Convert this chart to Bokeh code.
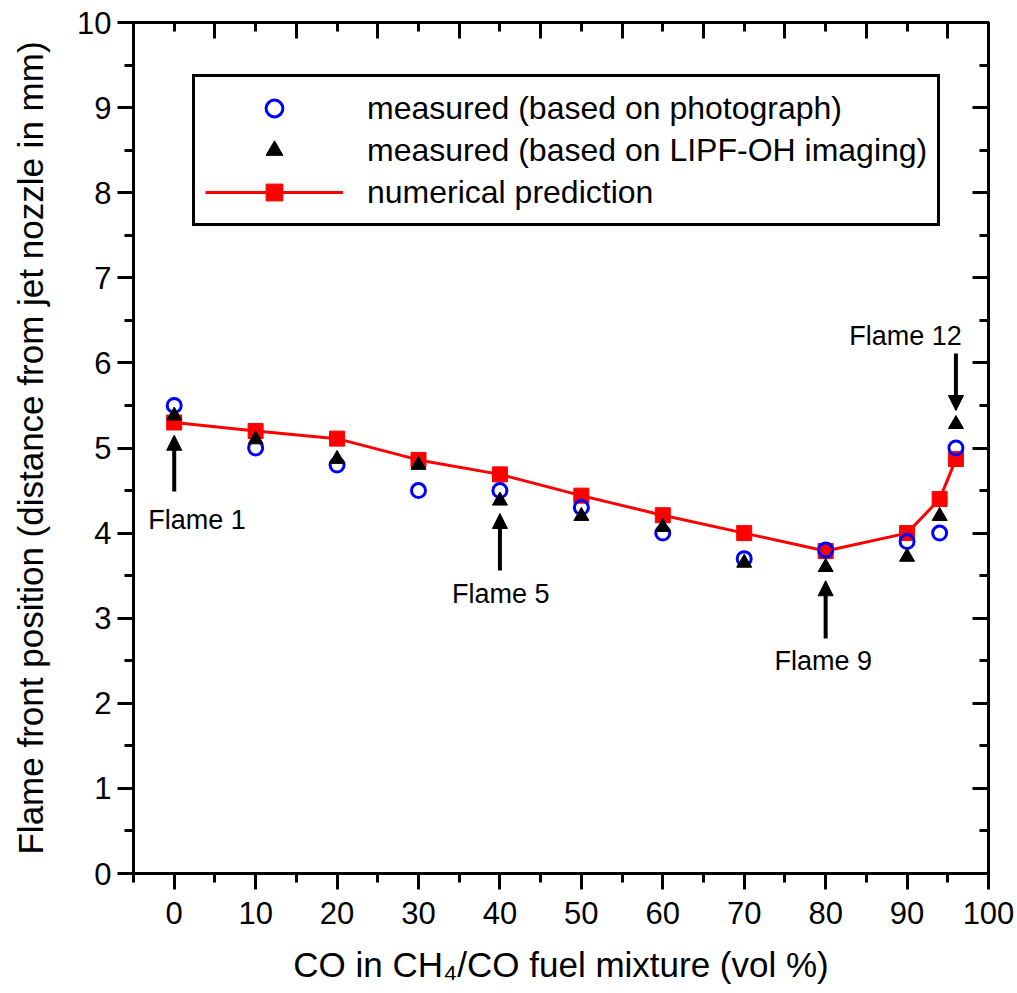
from bokeh.plotting import figure
from bokeh.models import (Range1d, LinearAxis, FixedTicker, SingleIntervalTicker, Legend,
                          LegendItem, Arrow, NormalHead, ColumnDataSource, CustomJSTickFormatter)
from bokeh.core.properties import value
from bokeh.embed import file_html
from bokeh.resources import INLINE

# ---- data ----
co_pct = [0, 10, 20, 30, 40, 50, 60, 70, 80, 90, 94, 96]
photo = [5.5, 5.0, 4.8, 4.5, 4.5, 4.3, 4.0, 3.7, 3.8, 3.9, 4.0, 5.0]
lipf = [5.38, 5.1, 4.87, 4.8, 4.38, 4.2, 4.07, 3.65, 3.6, 3.72, 4.2, 5.28]
numeric = [5.3, 5.2, 5.11, 4.86, 4.69, 4.44, 4.21, 4.0, 3.79, 4.0, 4.4, 4.87]

flame_labels = ["Flame 1", "Flame 5", "Flame 9", "Flame 12"]
flame_label_x = [2.8, 40.1, 79.7, 89.8]
flame_label_y = [4.15, 3.29, 2.50, 6.32]
arrow_x = [0, 40, 80, 96]
arrow_tail = [4.49, 3.56, 2.76, 6.11]
arrow_tip = [5.15, 4.23, 3.44, 5.44]

x_major = [0, 10, 20, 30, 40, 50, 60, 70, 80, 90, 100]
x_minor = [-5, 5, 15, 25, 35, 45, 55, 65, 75, 85, 95]

FONT = "Liberation Sans"

p = figure(width=1017, height=993, output_backend="svg", toolbar_location=None,
           x_range=Range1d(-5, 100), y_range=Range1d(0, 10),
           min_border_left=133, min_border_right=29, min_border_top=22, min_border_bottom=120,
           x_axis_label="CO in CH\u2084/CO fuel mixture (vol %)",
           y_axis_label="Flame front position (distance from jet nozzle in mm)")
p.grid.visible = False
p.outline_line_color = "black"
p.outline_line_width = 3
p.background_fill_color = "white"
p.border_fill_color = "white"

# bottom axis
xa = p.xaxis[0]
xa.ticker = FixedTicker(ticks=x_major, minor_ticks=x_minor)
# left axis
ya = p.yaxis[0]
ya.ticker = SingleIntervalTicker(interval=1, num_minor_ticks=2)

for ax in (xa, ya):
    ax.axis_line_width = 3
    ax.major_tick_line_width = 3
    ax.minor_tick_line_width = 3
    ax.major_tick_in = 0
    ax.minor_tick_in = 0
    ax.major_tick_out = 16
    ax.minor_tick_out = 9
    ax.major_label_text_font = FONT
    ax.major_label_text_font_size = "31px"
    ax.major_label_text_color = "black"
    ax.axis_label_text_font = FONT
    ax.axis_label_text_font_size = "35px"
    ax.axis_label_text_font_style = "normal"
    ax.axis_label_text_color = "black"
xa.major_label_standoff = 12
xa.axis_label_standoff = 18
ya.major_label_standoff = 6
ya.axis_label_standoff = 24

blank = CustomJSTickFormatter(code="return ''")
top = LinearAxis(ticker=FixedTicker(ticks=x_minor[1:], minor_ticks=x_major), formatter=blank)
right = LinearAxis(ticker=SingleIntervalTicker(interval=1, num_minor_ticks=2), formatter=blank)
for ax in (top, right):
    ax.axis_line_width = 3
    ax.major_tick_line_width = 3
    ax.minor_tick_line_width = 3
    ax.major_tick_out = 0
    ax.minor_tick_out = 0
    ax.major_tick_in = 16
    ax.minor_tick_in = 9
    ax.major_label_text_font_size = "1px"
p.add_layout(top, "above")
p.add_layout(right, "right")

src = ColumnDataSource(dict(x=co_pct, photo=photo, lipf=lipf, num=numeric))
line_r = p.line("x", "num", source=src, line_color="#ff0000", line_width=3)
sq_r = p.scatter("x", "num", source=src, marker="square", size=15,
                 fill_color="#ff0000", line_color="#ff0000")
circ_r = p.scatter("x", "photo", source=src, marker="circle", size=14,
                   fill_color=None, line_color="#0000ff", line_width=3)
tri_r = p.scatter("x", "lipf", source=src, marker="triangle", size=15,
                  fill_color="black", line_color="black")

# arrows
for ax_, t0, t1 in zip(arrow_x, arrow_tail, arrow_tip):
    p.add_layout(Arrow(x_start=ax_, y_start=t0, x_end=ax_, y_end=t1,
                       line_width=4, line_color="black",
                       end=NormalHead(size=15, fill_color="black", line_color="black", line_width=1)))

lab_src = ColumnDataSource(dict(x=flame_label_x, y=flame_label_y, t=flame_labels))
p.text("x", "y", text="t", source=lab_src, text_font=value(FONT), text_font_size="27px",
       text_align="center", text_baseline="middle", text_color="black")

legend = Legend(items=[
    LegendItem(label="measured (based on photograph)", renderers=[circ_r]),
    LegendItem(label="measured (based on LIPF-OH imaging)", renderers=[tri_r]),
    LegendItem(label="numerical prediction", renderers=[line_r, sq_r]),
], location=(59, 647), margin=0, padding=10, spacing=0,
    glyph_width=138, glyph_height=42, label_height=42, label_standoff=24,
    label_text_font=FONT, label_text_font_size="32px", label_text_color="black",
    border_line_color="black", border_line_width=3, border_line_alpha=1.0,
    background_fill_color="white", background_fill_alpha=1.0)
p.add_layout(legend, "center")

open("out.html", "w").write(file_html(p, INLINE))
